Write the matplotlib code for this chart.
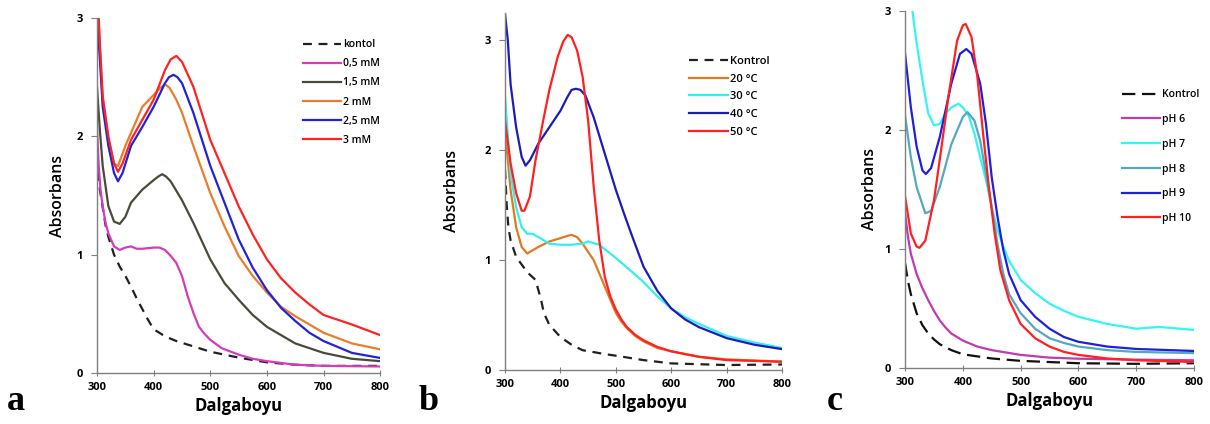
import matplotlib
matplotlib.use("Agg")
import matplotlib.pyplot as plt

# ---------------- Panel a: concentration ----------------
a_kontol_x = [300, 305, 310, 315, 320, 330, 340, 350, 360, 370, 380, 390, 400, 420, 440, 460, 480, 500, 550, 600, 650, 700, 750, 800]
a_kontol_y = [1.83, 1.55, 1.40, 1.25, 1.15, 1.00, 0.90, 0.82, 0.73, 0.63, 0.54, 0.45, 0.37, 0.31, 0.27, 0.24, 0.21, 0.18, 0.13, 0.09, 0.07, 0.06, 0.06, 0.06]

a_05_x = [300, 303, 306, 310, 315, 320, 330, 340, 350, 360, 370, 380, 400, 410, 420, 430, 440, 450, 460, 470, 480, 490, 500, 520, 550, 575, 600, 650, 700, 800]
a_05_y = [2.06, 1.75, 1.55, 1.41, 1.27, 1.18, 1.07, 1.04, 1.06, 1.07, 1.05, 1.05, 1.06, 1.06, 1.04, 0.99, 0.93, 0.82, 0.65, 0.51, 0.39, 0.33, 0.28, 0.21, 0.155, 0.12, 0.10, 0.07, 0.06, 0.055]

a_15_x = [300, 305, 310, 320, 330, 340, 350, 360, 380, 400, 408, 415, 422, 430, 450, 470, 500, 525, 550, 575, 600, 650, 700, 750, 800]
a_15_y = [2.41, 2.05, 1.75, 1.41, 1.28, 1.26, 1.32, 1.44, 1.55, 1.63, 1.66, 1.68, 1.66, 1.62, 1.46, 1.27, 0.96, 0.76, 0.62, 0.49, 0.39, 0.25, 0.17, 0.12, 0.10]

a_2_x = [300, 305, 310, 320, 330, 337, 350, 370, 380, 400, 412, 420, 428, 440, 450, 470, 500, 525, 550, 575, 600, 625, 650, 700, 750, 800]
a_2_y = [3.30, 2.75, 2.31, 1.97, 1.77, 1.75, 1.92, 2.14, 2.25, 2.35, 2.41, 2.44, 2.41, 2.31, 2.20, 1.92, 1.52, 1.24, 0.99, 0.82, 0.68, 0.56, 0.48, 0.34, 0.25, 0.20]

a_25_x = [300, 305, 310, 320, 330, 337, 345, 360, 380, 400, 420, 427, 435, 442, 450, 470, 500, 525, 550, 575, 600, 625, 650, 675, 700, 750, 800]
a_25_y = [3.00, 2.65, 2.25, 1.92, 1.69, 1.62, 1.69, 1.92, 2.08, 2.25, 2.45, 2.50, 2.52, 2.50, 2.45, 2.20, 1.75, 1.44, 1.13, 0.89, 0.70, 0.55, 0.44, 0.34, 0.27, 0.17, 0.127]

a_3_x = [300, 305, 310, 320, 330, 337, 345, 360, 380, 400, 420, 430, 440, 450, 470, 500, 525, 550, 575, 600, 625, 650, 675, 700, 750, 800]
a_3_y = [3.30, 2.78, 2.34, 2.00, 1.77, 1.70, 1.77, 1.97, 2.14, 2.31, 2.56, 2.65, 2.68, 2.63, 2.42, 1.97, 1.69, 1.41, 1.17, 0.96, 0.80, 0.68, 0.58, 0.49, 0.41, 0.32]

a_labels = ["kontol", "0,5 mM", "1,5 mM", "2 mM", "2,5 mM", "3 mM"]

# ---------------- Panel b: temperature ----------------
b_kontrol_x = [300, 303, 306, 310, 320, 340, 355, 365, 370, 380, 400, 420, 440, 480, 500, 550, 600, 700, 800]
b_kontrol_y = [1.82, 1.50, 1.30, 1.18, 1.03, 0.89, 0.82, 0.64, 0.52, 0.41, 0.30, 0.23, 0.18, 0.145, 0.13, 0.09, 0.06, 0.045, 0.05]

b_20_x = [300, 310, 320, 330, 340, 360, 380, 400, 412, 420, 430, 440, 460, 480, 500, 510, 520, 535, 550, 575, 600, 650, 700, 800]
b_20_y = [2.18, 1.64, 1.30, 1.12, 1.06, 1.12, 1.17, 1.20, 1.22, 1.23, 1.21, 1.15, 1.00, 0.76, 0.52, 0.44, 0.38, 0.31, 0.26, 0.20, 0.17, 0.12, 0.097, 0.076]

b_30_x = [300, 310, 320, 330, 340, 350, 360, 380, 400, 420, 440, 450, 470, 500, 530, 550, 575, 600, 625, 650, 700, 750, 800]
b_30_y = [2.48, 1.79, 1.48, 1.30, 1.24, 1.24, 1.21, 1.15, 1.14, 1.14, 1.15, 1.17, 1.14, 1.02, 0.89, 0.80, 0.67, 0.56, 0.48, 0.42, 0.31, 0.25, 0.20]

b_40_x = [300, 305, 310, 320, 330, 337, 345, 360, 380, 400, 412, 420, 428, 436, 445, 460, 480, 500, 515, 530, 550, 575, 600, 625, 650, 700, 750, 800]
b_40_y = [3.24, 3.00, 2.60, 2.21, 1.94, 1.86, 1.91, 2.06, 2.21, 2.36, 2.48, 2.55, 2.56, 2.55, 2.50, 2.30, 1.97, 1.64, 1.42, 1.21, 0.94, 0.72, 0.56, 0.46, 0.39, 0.29, 0.23, 0.19]

b_50_x = [300, 310, 320, 330, 335, 345, 355, 370, 380, 395, 405, 413, 420, 430, 440, 450, 460, 470, 480, 490, 500, 510, 520, 535, 550, 575, 600, 650, 700, 800]
b_50_y = [2.27, 1.88, 1.61, 1.45, 1.45, 1.58, 1.91, 2.30, 2.55, 2.85, 2.99, 3.05, 3.03, 2.91, 2.67, 2.27, 1.67, 1.18, 0.85, 0.67, 0.55, 0.46, 0.39, 0.32, 0.27, 0.21, 0.17, 0.12, 0.09, 0.075]

b_labels = ["Kontrol", "20 °C", "30 °C", "40 °C", "50 °C"]

# ---------------- Panel c: pH ----------------
c_kontrol_x = [300, 305, 310, 320, 330, 340, 350, 360, 380, 400, 450, 500, 600, 700, 800]
c_kontrol_y = [0.88, 0.73, 0.62, 0.46, 0.36, 0.29, 0.24, 0.20, 0.15, 0.115, 0.08, 0.06, 0.04, 0.035, 0.04]

c_ph6_x = [300, 305, 310, 320, 330, 340, 350, 360, 370, 380, 400, 425, 450, 500, 550, 600, 700, 800]
c_ph6_y = [1.30, 1.10, 0.96, 0.79, 0.67, 0.57, 0.48, 0.40, 0.34, 0.29, 0.23, 0.18, 0.15, 0.11, 0.087, 0.078, 0.07, 0.065]

c_ph7_x = [300, 310, 320, 330, 340, 350, 360, 370, 380, 392, 400, 410, 420, 430, 440, 450, 460, 470, 480, 500, 525, 550, 575, 600, 650, 700, 740, 800]
c_ph7_y = [3.40, 3.10, 2.73, 2.42, 2.14, 2.04, 2.05, 2.14, 2.19, 2.22, 2.19, 2.12, 1.97, 1.77, 1.58, 1.35, 1.16, 1.02, 0.90, 0.74, 0.63, 0.54, 0.48, 0.43, 0.37, 0.33, 0.345, 0.32]

c_ph8_x = [300, 310, 320, 335, 345, 360, 380, 400, 408, 420, 430, 440, 450, 460, 470, 480, 500, 525, 550, 575, 600, 650, 700, 800]
c_ph8_y = [2.12, 1.77, 1.52, 1.30, 1.32, 1.52, 1.88, 2.11, 2.15, 2.08, 1.91, 1.63, 1.35, 1.04, 0.79, 0.62, 0.46, 0.33, 0.25, 0.21, 0.18, 0.15, 0.135, 0.125]

c_ph9_x = [300, 310, 320, 330, 336, 345, 360, 380, 395, 406, 415, 430, 440, 450, 460, 470, 480, 500, 525, 550, 575, 600, 650, 700, 800]
c_ph9_y = [2.64, 2.19, 1.86, 1.66, 1.63, 1.68, 1.94, 2.39, 2.64, 2.68, 2.64, 2.39, 2.05, 1.60, 1.27, 0.99, 0.79, 0.57, 0.43, 0.33, 0.26, 0.22, 0.18, 0.16, 0.143]

c_ph10_x = [300, 310, 320, 325, 335, 350, 360, 375, 390, 400, 405, 415, 425, 435, 445, 455, 465, 480, 500, 525, 550, 575, 600, 650, 700, 800]
c_ph10_y = [1.44, 1.13, 1.02, 1.01, 1.07, 1.41, 1.75, 2.28, 2.75, 2.88, 2.89, 2.78, 2.45, 1.97, 1.52, 1.13, 0.82, 0.57, 0.37, 0.25, 0.18, 0.135, 0.11, 0.08, 0.065, 0.05]

c_labels = ["Kontrol", "pH 6", "pH 7", "pH 8", "pH 9", "pH 10"]

x_ticks = [300, 400, 500, 600, 700, 800]
y_ticks = [0, 1, 2, 3]

TICKFONT = dict(family="Open Sans", weight="bold", size=8)
LW = 1.6

fig = plt.figure(figsize=(12.1, 4.24), dpi=100)


def style(ax, ymax, ypad):
    ax.set_xlim(300, 800)
    ax.set_ylim(0, ymax)
    ax.set_xticks(x_ticks)
    ax.set_yticks(y_ticks)
    ax.set_xticklabels([str(t) for t in x_ticks], fontdict=TICKFONT)
    ax.set_yticklabels([str(t) for t in y_ticks], fontdict=TICKFONT)
    for s in ["top", "right"]:
        ax.spines[s].set_visible(False)
    for s in ["left", "bottom"]:
        ax.spines[s].set_color("#808080")
        ax.spines[s].set_linewidth(1.0)
    ax.tick_params(axis="y", direction="out", length=4, color="#808080", pad=6)
    ax.tick_params(axis="x", direction="inout", length=5, color="#808080", pad=4)
    ax.set_xlabel("Dalgaboyu", family="Open Sans", weight="bold", size=12, labelpad=3)
    ax.set_ylabel("Absorbans", family="Open Sans", weight="semibold", size=11.5, labelpad=ypad)


# Panel a
axa = fig.add_axes([0.0802, 0.1203, 0.234, 0.8372])
axa.plot(a_kontol_x, a_kontol_y, color="#202020", lw=LW, ls=(0, (4, 3)), label=a_labels[0])
axa.plot(a_05_x, a_05_y, color="#d63bbd", lw=LW, label=a_labels[1])
axa.plot(a_15_x, a_15_y, color="#4a4a3a", lw=LW, label=a_labels[2])
axa.plot(a_2_x, a_2_y, color="#ea7d2c", lw=LW, label=a_labels[3])
axa.plot(a_25_x, a_25_y, color="#2222d8", lw=LW, label=a_labels[4])
axa.plot(a_3_x, a_3_y, color="#ff2222", lw=LW, label=a_labels[5])
style(axa, 3, 8)
axa.legend(loc="upper left", bbox_to_anchor=(0.71, 0.955), frameon=False,
           prop=dict(family="Open Sans", weight="semibold", size=7.5),
           handlelength=3.6, handletextpad=0.2, labelspacing=0.78, borderpad=0)

# Panel b
axb = fig.add_axes([0.4174, 0.1274, 0.2289, 0.842])
axb.plot(b_kontrol_x, b_kontrol_y, color="#202020", lw=LW, ls=(0, (4, 3)), label=b_labels[0])
axb.plot(b_20_x, b_20_y, color="#e07a22", lw=LW, label=b_labels[1])
axb.plot(b_30_x, b_30_y, color="#33f0f0", lw=LW, label=b_labels[2])
axb.plot(b_40_x, b_40_y, color="#1c1cb8", lw=LW, label=b_labels[3])
axb.plot(b_50_x, b_50_y, color="#ff2020", lw=LW, label=b_labels[4])
style(axb, 3.25, 18)
axb.legend(loc="upper left", bbox_to_anchor=(0.645, 0.895), frameon=False,
           prop=dict(family="Open Sans", weight="semibold", size=8),
           handlelength=3.5, handletextpad=0.2, labelspacing=0.6, borderpad=0)

# Panel c
axc = fig.add_axes([0.748, 0.1321, 0.2388, 0.842])
axc.plot(c_kontrol_x, c_kontrol_y, color="#111111", lw=LW, ls=(0, (6, 3)), label=c_labels[0])
axc.plot(c_ph6_x, c_ph6_y, color="#c03ab0", lw=LW, label=c_labels[1])
axc.plot(c_ph7_x, c_ph7_y, color="#33f5f5", lw=LW, label=c_labels[2])
axc.plot(c_ph8_x, c_ph8_y, color="#55a8c2", lw=LW, label=c_labels[3])
axc.plot(c_ph9_x, c_ph9_y, color="#1f1fe0", lw=LW, label=c_labels[4])
axc.plot(c_ph10_x, c_ph10_y, color="#ff2020", lw=LW, label=c_labels[5])
style(axc, 3, 5)
axc.legend(loc="upper left", bbox_to_anchor=(0.732, 0.795), frameon=False,
           prop=dict(family="Open Sans", weight="semibold", size=7.5),
           handlelength=3.7, handletextpad=0.2, labelspacing=1.32, borderpad=0)

# Panel letters
for xf, letter in [(0.006, "a"), (0.346, "b"), (0.683, "c")]:
    fig.text(xf, 0.015, letter, family="Liberation Serif", weight="bold", size=26, va="bottom")

fig.savefig("out.png", dpi=100)
